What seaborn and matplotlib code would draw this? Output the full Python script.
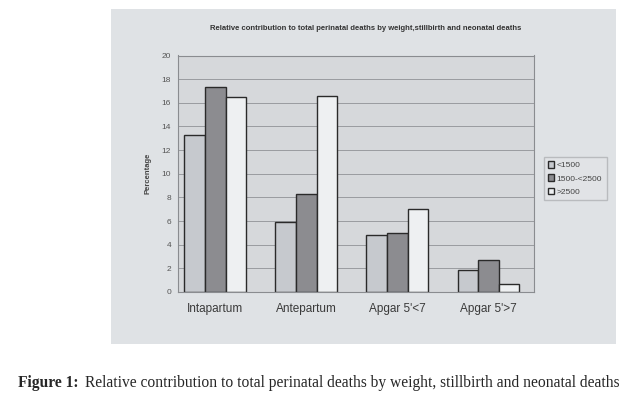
import seaborn as sns
import matplotlib.pyplot as plt
import matplotlib.patches as mpatches
import pandas as pd

# values
categories = ["Intapartum", "Antepartum", "Apgar 5'<7", "Apgar 5'>7"]
groups = ["<1500", "1500-<2500", ">2500"]
lt1500 = [13.3, 5.9, 4.8, 1.9]
mid = [17.3, 8.3, 5.0, 2.7]
gt2500 = [16.5, 16.6, 7.0, 0.7]

df = pd.DataFrame({
    "cause": categories * 3,
    "weight": [g for g in groups for _ in categories],
    "pct": lt1500 + mid + gt2500,
})

sns.set_style("white")
plt.rcParams['font.family'] = ['Liberation Sans', 'DejaVu Sans']

fig = plt.figure(figsize=(6.39, 3.97), dpi=100)
W, H = 639, 397

# scanned paper background
fig.patches.append(mpatches.Rectangle((111 / W, 1 - 344 / H), 505 / W, 335 / H,
                                      transform=fig.transFigure, facecolor="#dfe2e5",
                                      edgecolor="none", zorder=-10))

ax = fig.add_axes([178 / W, 1 - 292 / H, 356 / W, 236.5 / H])
ax.set_facecolor("#d6d8db")

colors = ["#c6c9ce", "#8c8c90", "#eef0f2"]
sns.barplot(data=df, x="cause", y="pct", hue="weight", hue_order=groups,
            palette=colors, edgecolor="#2a2a2a", linewidth=1.0,
            width=0.68, gap=0, saturation=1, ax=ax)

ax.set_xlim(-0.41, 3.5)
ax.set_ylim(0, 20)
ax.set_yticks(range(0, 21, 2))
ax.yaxis.grid(True, color="#9a9ca0", linewidth=0.7)
ax.set_axisbelow(True)
ax.tick_params(axis="y", labelsize=6, colors="#555555", length=0, pad=5)
ax.tick_params(axis="x", labelsize=8.5, colors="#3a3a3a", length=0, pad=8)
for s in ax.spines.values():
    s.set_color("#8a8c90")
    s.set_linewidth(0.8)
ax.set_xlabel("")
ax.set_ylabel("Percentage", fontsize=5.5, fontweight="bold", color="#444444", labelpad=7)

leg = ax.legend(loc="center left", bbox_to_anchor=(1.015, 0.48), fontsize=6,
                frameon=True, fancybox=False, handlelength=0.8, handleheight=0.8,
                handletextpad=0.3, borderpad=0.5, labelspacing=0.6)
leg.get_frame().set_edgecolor("#b0b2b5")
leg.get_frame().set_facecolor("#e2e4e7")
for t in leg.get_texts():
    t.set_color("#444444")

fig.text(366 / W, 1 - 28 / H,
         "Relative contribution to total perinatal deaths by weight,stillbirth and neonatal deaths",
         ha="center", va="center", fontsize=5.5, fontweight="bold", color="#333333")

fig.text(18 / W, 1 - 383 / H, "Figure 1:", ha="left", va="center", fontsize=11.2,
         fontweight="bold", family="Liberation Serif")
fig.text(85 / W, 1 - 383 / H,
         "Relative contribution to total perinatal deaths by weight, stillbirth and neonatal deaths",
         ha="left", va="center", fontsize=11.2, family="Liberation Serif")

fig.savefig("out.png", dpi=100)
